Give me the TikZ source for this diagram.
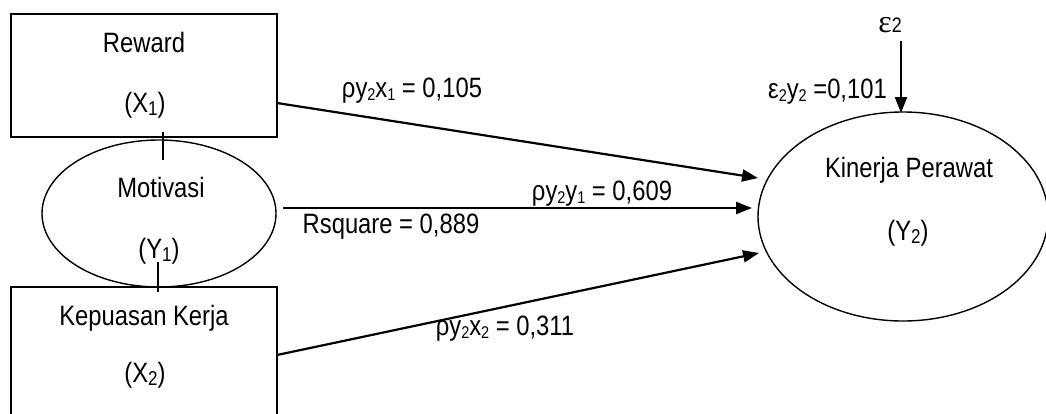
\documentclass[tikz,border=0pt]{standalone}
\usepackage{fontspec}
\setmainfont[FakeStretch=0.85]{Liberation Sans}
\newfontfamily\epsfont{Liberation Serif}
\usetikzlibrary{shapes.geometric,arrows.meta}
\newcommand{\bsub}[1]{\raisebox{-3pt}{\fontsize{20}{20}\selectfont #1}}
\newcommand{\lsub}[1]{\raisebox{-3pt}{\fontsize{17}{17}\selectfont #1}}
\begin{document}
\begin{tikzpicture}[x=1pt,y=-1pt,
  txt/.style={inner sep=0pt,anchor=base,font=\fontsize{28}{32}\selectfont},
  boxshape/.style={draw,line width=1.8pt,rectangle,inner sep=0pt},
  ell/.style={draw,line width=1.4pt,ellipse,inner sep=0pt},
  path/.style={line width=2.2pt,-{Triangle[length=16pt,width=12pt]}},
  tick/.style={line width=1.6pt}]
\useasboundingbox (0,0) rectangle (1046,413);
\clip (0,0) rectangle (1046,413);
% boxes and ellipses
\node[boxshape,minimum width=266pt,minimum height=123pt] (reward) at (144,75.5) {};
\node[boxshape,minimum width=266pt,minimum height=140pt] (kepuasan) at (144,357) {};
\node[ell,minimum width=234pt,minimum height=147pt] (motivasi) at (159,213.5) {};
\node[ell,minimum width=290pt,minimum height=209pt] (kinerja) at (903,216.5) {};
% texts
\node[txt] (t1) at (144,52) {Reward};
\node[txt] (t2) at (145,112) {(X\bsub{1})};
\node[txt] (t3) at (161,197) {Motivasi};
\node[txt] (t4) at (159,258) {(Y\bsub{1})};
\node[txt] (t5) at (144,325) {Kepuasan Kerja};
\node[txt] (t6) at (145,382) {(X\bsub{2})};
\node[txt] (t7) at (909,177) {Kinerja Perawat};
\node[txt] (t8) at (908,240) {(Y\bsub{2})};
% ticks
\coordinate (ta) at (163,132);
\coordinate (tb) at (163,160);
\coordinate (tc) at (158,262);
\coordinate (td) at (158,292);
\draw[tick] (ta) -- (tb);
\draw[tick] (tc) -- (td);
% arrows
\coordinate (s1) at (277,103);
\coordinate (e1) at (758,178);
\coordinate (s2) at (283,208);
\coordinate (e2) at (752,208);
\coordinate (s3) at (277,355);
\coordinate (e3) at (759,253);
\draw[path] (s1) -- (e1);
\draw[path] (s2) -- (e2);
\draw[path] (s3) -- (e3);
% epsilon
\node[txt] (eps) at (890,32) {{\epsfont\fontsize{32}{32}\selectfont ε}{\fontsize{21}{21}\selectfont 2}};
\coordinate (es) at (901,41);
\coordinate (ee) at (901,113);
\draw[path] (es) -- (ee);
% labels
\node[txt] (l1) at (412,97) {ρy\lsub{2}x\lsub{1} = 0,105};
\node[txt] (l2) at (602,200) {ρy\lsub{2}y\lsub{1} = 0,609};
\node[txt] (l3) at (391,233) {Rsquare = 0,889};
\node[txt] (l4) at (505,335) {ρy\lsub{2}x\lsub{2} = 0,311};
\node[txt,anchor=base east] (l5) at (887,98) {ε\lsub{2}y\lsub{2} =0,101};
\end{tikzpicture}
\end{document}
